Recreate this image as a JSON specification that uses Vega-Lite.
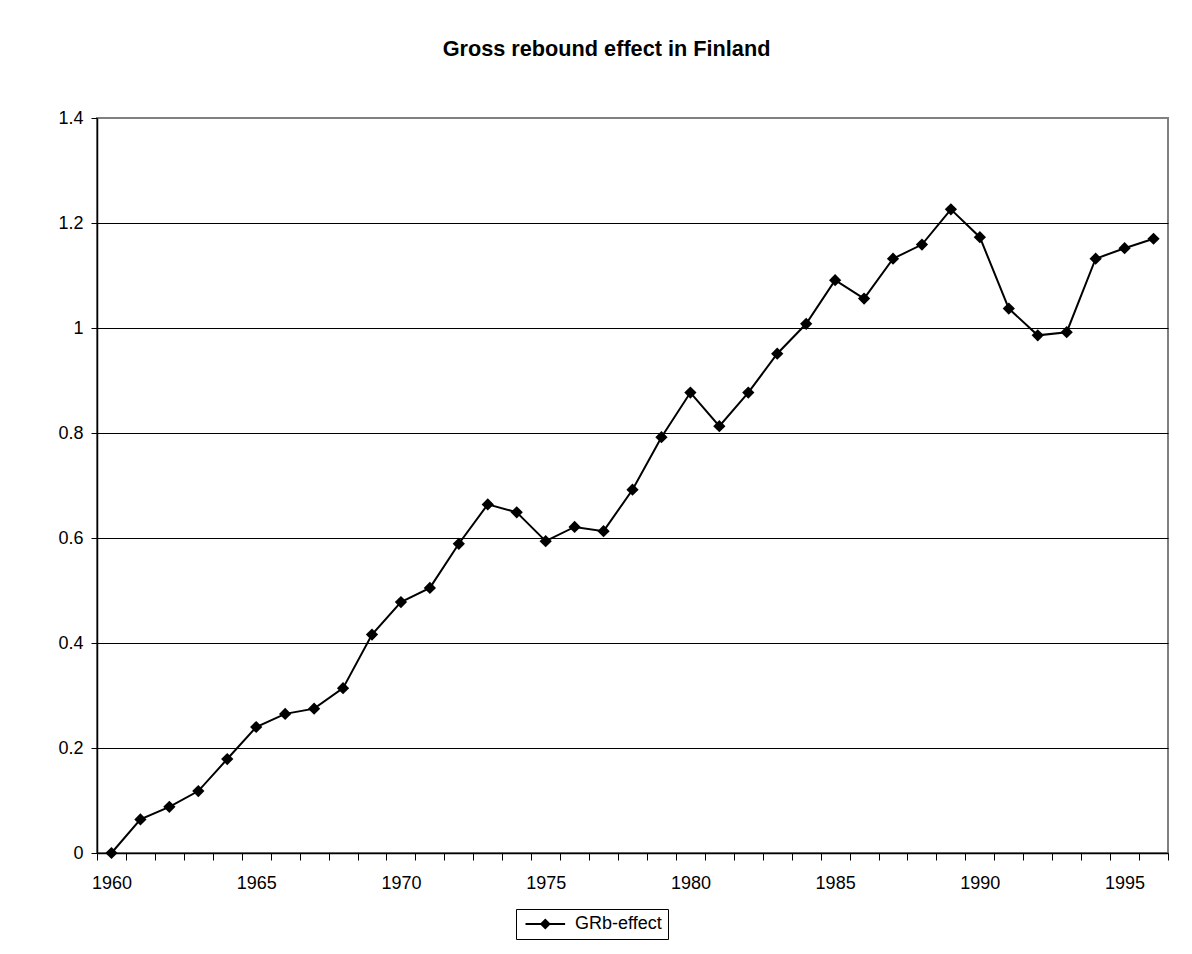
{
  "$schema": "https://vega.github.io/schema/vega-lite/v6.json",
  "width": 1071,
  "height": 735,
  "autosize": {"type": "none"},
  "padding": {"left": 97, "top": 118, "right": 24, "bottom": 101},
  "background": "white",
  "title": {
    "text": "Gross rebound effect in Finland",
    "font": "Liberation Sans",
    "fontSize": 21.7,
    "fontWeight": "bold",
    "color": "black",
    "anchor": "middle",
    "baseline": "alphabetic",
    "offset": 31,
    "dx": -26
  },
  "config": {
    "font": "Liberation Sans",
    "view": {"stroke": "#808080", "strokeWidth": 2},
    "axis": {
      "labelFont": "Liberation Sans",
      "labelFontSize": 18,
      "labelColor": "black",
      "domainColor": "black",
      "domainWidth": 1.5,
      "tickColor": "black",
      "tickWidth": 1,
      "title": null
    }
  },
  "data": {
    "values": [
      {"year": 1960, "value": 0, "series": "GRb-effect"},
      {"year": 1961, "value": 0.064, "series": "GRb-effect"},
      {"year": 1962, "value": 0.088, "series": "GRb-effect"},
      {"year": 1963, "value": 0.118, "series": "GRb-effect"},
      {"year": 1964, "value": 0.179, "series": "GRb-effect"},
      {"year": 1965, "value": 0.24, "series": "GRb-effect"},
      {"year": 1966, "value": 0.265, "series": "GRb-effect"},
      {"year": 1967, "value": 0.275, "series": "GRb-effect"},
      {"year": 1968, "value": 0.314, "series": "GRb-effect"},
      {"year": 1969, "value": 0.416, "series": "GRb-effect"},
      {"year": 1970, "value": 0.478, "series": "GRb-effect"},
      {"year": 1971, "value": 0.505, "series": "GRb-effect"},
      {"year": 1972, "value": 0.589, "series": "GRb-effect"},
      {"year": 1973, "value": 0.664, "series": "GRb-effect"},
      {"year": 1974, "value": 0.649, "series": "GRb-effect"},
      {"year": 1975, "value": 0.594, "series": "GRb-effect"},
      {"year": 1976, "value": 0.621, "series": "GRb-effect"},
      {"year": 1977, "value": 0.613, "series": "GRb-effect"},
      {"year": 1978, "value": 0.692, "series": "GRb-effect"},
      {"year": 1979, "value": 0.792, "series": "GRb-effect"},
      {"year": 1980, "value": 0.877, "series": "GRb-effect"},
      {"year": 1981, "value": 0.813, "series": "GRb-effect"},
      {"year": 1982, "value": 0.877, "series": "GRb-effect"},
      {"year": 1983, "value": 0.951, "series": "GRb-effect"},
      {"year": 1984, "value": 1.008, "series": "GRb-effect"},
      {"year": 1985, "value": 1.091, "series": "GRb-effect"},
      {"year": 1986, "value": 1.056, "series": "GRb-effect"},
      {"year": 1987, "value": 1.132, "series": "GRb-effect"},
      {"year": 1988, "value": 1.159, "series": "GRb-effect"},
      {"year": 1989, "value": 1.226, "series": "GRb-effect"},
      {"year": 1990, "value": 1.173, "series": "GRb-effect"},
      {"year": 1991, "value": 1.037, "series": "GRb-effect"},
      {"year": 1992, "value": 0.986, "series": "GRb-effect"},
      {"year": 1993, "value": 0.992, "series": "GRb-effect"},
      {"year": 1994, "value": 1.132, "series": "GRb-effect"},
      {"year": 1995, "value": 1.152, "series": "GRb-effect"},
      {"year": 1996, "value": 1.17, "series": "GRb-effect"}
    ]
  },
  "encoding": {
    "x": {
      "field": "year",
      "type": "ordinal",
      "bandPosition": 0.5,
      "scale": {"type": "band", "paddingInner": 0, "paddingOuter": 0},
      "axis": {
        "tickBand": "extent",
        "tickSize": 7,
        "labelPadding": 14,
        "labelAngle": 0,
        "labelOverlap": false,
        "labelExpr": "datum.value % 5 === 0 ? datum.label : ''",
        "grid": false
      }
    },
    "y": {
      "field": "value",
      "type": "quantitative",
      "scale": {"domain": [0, 1.4], "nice": false, "zero": true},
      "axis": {
        "values": [0, 0.2, 0.4, 0.6, 0.8, 1, 1.2, 1.4],
        "format": "~g",
        "tickSize": 6,
        "labelPadding": 8,
        "grid": true,
        "gridWidth": 1,
        "gridColor": {"condition": {"test": "datum.value > 1.3", "value": "#808080"}, "value": "black"}
      }
    },
    "color": {
      "field": "series",
      "type": "nominal",
      "scale": {"range": ["black"]},
      "legend": {
        "title": null,
        "orient": "none",
        "legendX": 419,
        "legendY": 791,
        "strokeColor": "black",
        "padding": 6,
        "fillColor": "white",
        "labelFont": "Liberation Sans",
        "labelFontSize": 18,
        "labelColor": "black",
        "labelOffset": 35,
        "symbolType": "M-1,-0.18L6.2,-0.18L6.2,0.18L-1,0.18Z M1.6,0L2.6,-1L3.6,0L2.6,1Z",
        "symbolSize": 121,
        "symbolFillColor": "black",
        "symbolStrokeWidth": 0,
        "symbolOpacity": 1
      }
    }
  },
  "layer": [
    {"mark": {"type": "line", "strokeWidth": 2}},
    {"mark": {"type": "point", "shape": "diamond", "filled": true, "size": 150, "opacity": 1}}
  ]
}
